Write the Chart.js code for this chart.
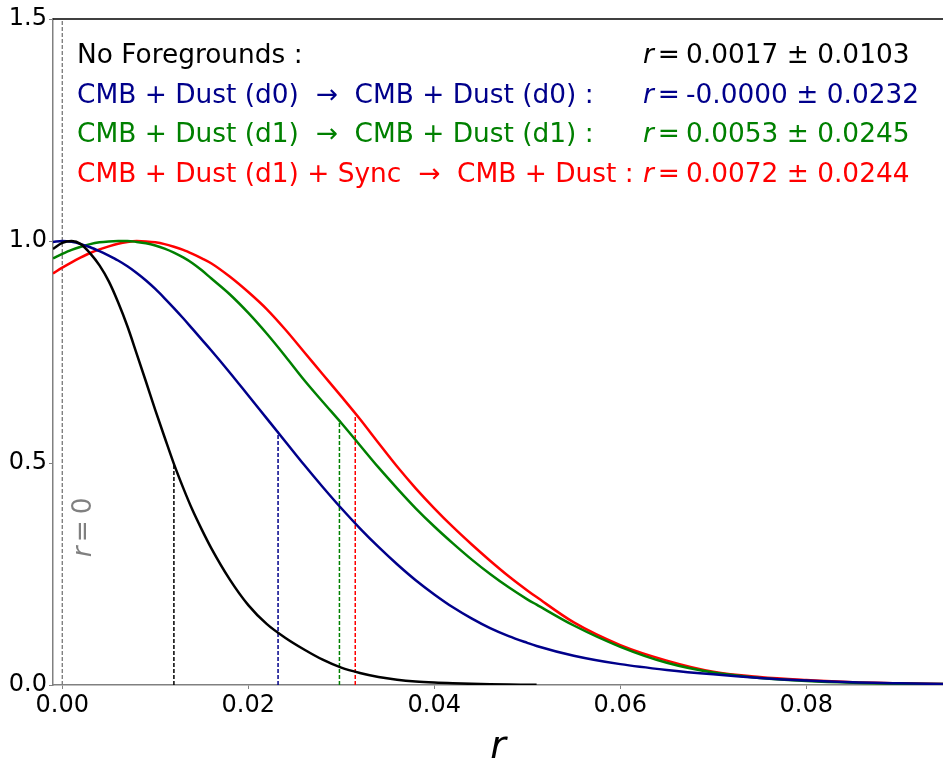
<!DOCTYPE html>
<html>
<head>
<meta charset="utf-8">
<script src="https://cdn.jsdelivr.net/npm/chart.js@4.4.0/dist/chart.umd.min.js"></script>
<style>
  html, body { margin: 0; padding: 0; background: #fff; }
  #wrap { width: 943px; height: 758px; }
</style>
</head>
<body>
<div id="wrap"><canvas id="likeChart" width="943" height="758"></canvas></div>
<script>
// r grid shared by all curves
const rGrid = [-0.001, 0, 0.001, 0.002, 0.003, 0.004, 0.005, 0.006, 0.007, 0.008, 0.009,
  0.010, 0.011, 0.012, 0.013, 0.014, 0.015, 0.016, 0.018, 0.020, 0.022, 0.024, 0.026,
  0.028, 0.030, 0.032, 0.034, 0.036, 0.038, 0.040, 0.042, 0.044, 0.046, 0.048, 0.050,
  0.051, 0.055, 0.060, 0.065, 0.070, 0.075, 0.080, 0.085, 0.090, 0.095];

// normalised likelihoods
const noFg = [0.982, 0.996, 1.0, 0.993, 0.972, 0.945, 0.909, 0.862, 0.808, 0.746, 0.683,
  0.619, 0.558, 0.498, 0.444, 0.394, 0.350, 0.309, 0.238, 0.180, 0.137, 0.106, 0.080,
  0.057, 0.039, 0.027, 0.018, 0.012, 0.008, 0.0055, 0.0038, 0.0026, 0.0017, 0.0011, 0.0007,
  0.0005, null, null, null, null, null, null, null, null, null];
const dustD0 = [0.998, 1.0, 0.998, 0.993, 0.986, 0.977, 0.967, 0.956, 0.943, 0.928, 0.911,
  0.892, 0.871, 0.849, 0.826, 0.802, 0.778, 0.754, 0.704, 0.652, 0.600, 0.548, 0.496,
  0.446, 0.398, 0.353, 0.311, 0.272, 0.236, 0.204, 0.175, 0.150, 0.128, 0.110, 0.095,
  0.088, 0.066, 0.047, 0.034, 0.024, 0.016, 0.010, 0.006, 0.004, 0.002];
const dustD1 = [0.961, 0.971, 0.980, 0.987, 0.993, 0.997, 0.999, 1.0, 1.0, 0.998, 0.995,
  0.990, 0.983, 0.974, 0.963, 0.950, 0.934, 0.916, 0.880, 0.838, 0.791, 0.740, 0.687,
  0.638, 0.590, 0.540, 0.490, 0.443, 0.398, 0.357, 0.319, 0.283, 0.250, 0.220, 0.193,
  0.181, 0.134, 0.086, 0.050, 0.028, 0.016, 0.009, 0.005, 0.003, 0.002];
const dustSync = [0.927, 0.940, 0.952, 0.963, 0.973, 0.981, 0.988, 0.994, 0.998, 1.0, 0.999,
  0.997, 0.993, 0.987, 0.980, 0.971, 0.961, 0.950, 0.920, 0.885, 0.846, 0.800, 0.750,
  0.700, 0.650, 0.599, 0.545, 0.492, 0.443, 0.398, 0.356, 0.317, 0.280, 0.245, 0.213,
  0.198, 0.141, 0.090, 0.055, 0.030, 0.018, 0.011, 0.006, 0.004, 0.002];

// upper limits (dashed) and the annotation texts
const limitR = [0.0120, 0.0232, 0.0298, 0.0315];
const limitL = [0.497, 0.571, 0.597, 0.608];
const caseNames = [
  'No Foregrounds :',
  'CMB + Dust (d0)  \u2192  CMB + Dust (d0) :',
  'CMB + Dust (d1)  \u2192  CMB + Dust (d1) :',
  'CMB + Dust (d1) + Sync  \u2192  CMB + Dust :'
];
const rBest = ['0.0017', '-0.0000', '0.0053', '0.0072'];
const rSigma = ['0.0103', '0.0232', '0.0245', '0.0244'];
const xTicks = [0, 0.02, 0.04, 0.06, 0.08];
const yTicks = [0, 0.5, 1.0, 1.5];

const colors = ['#000000', '#00008b', '#008000', '#ff0000'];
const FONT = 'DejaVu Sans';

const curves = [noFg, dustD0, dustD1, dustSync];
const datasets = [];

datasets.push({
  data: [{ x: 0, y: 0 }, { x: 0, y: 1.5 }],
  borderColor: '#808080', borderWidth: 1.4, borderDash: [4, 2],
  showLine: true, pointRadius: 0, order: 5
});

curves.forEach((vals, i) => {
  datasets.push({
    data: rGrid.map((r, j) => ({ x: r, y: vals[j] })).filter(p => p.y !== null),
    borderColor: colors[i], borderWidth: 2.5,
    showLine: true, pointRadius: 0, cubicInterpolationMode: 'monotone', order: 1
  });
  datasets.push({
    data: [{ x: limitR[i], y: 0 }, { x: limitR[i], y: limitL[i] }],
    borderColor: colors[i], borderWidth: 1.5, borderDash: [4, 2],
    showLine: true, pointRadius: 0, order: 2
  });
});

const annotations = {
  id: 'annotations',
  afterDraw(chart) {
    const { ctx, chartArea, scales } = chart;
    ctx.save();
    // top spine
    ctx.strokeStyle = '#000';
    ctx.lineWidth = 1.5;
    ctx.beginPath();
    ctx.moveTo(chartArea.left, chartArea.top);
    ctx.lineTo(chartArea.right, chartArea.top);
    ctx.stroke();

    ctx.textBaseline = 'alphabetic';
    ctx.textAlign = 'left';
    caseNames.forEach((name, i) => {
      const y = chartArea.top + 44.3 + i * 39.5;
      ctx.fillStyle = colors[i];
      ctx.font = '26.4px ' + FONT;
      ctx.fillText(name, chartArea.left + 24, y);
      let x = chartArea.left + 590;
      ctx.font = 'italic 26.4px ' + FONT;
      ctx.fillText('r', x, y);
      x += ctx.measureText('r').width + 4;
      ctx.font = '26.4px ' + FONT;
      ctx.fillText('=', x, y);
      x += ctx.measureText('=').width + 6;
      ctx.fillText(rBest[i] + ' \u00b1 ' + rSigma[i], x, y);
    });

    // r = 0 label along the dashed line
    ctx.translate(scales.x.getPixelForValue(0) + 29, scales.y.getPixelForValue(0.288));
    ctx.rotate(-Math.PI / 2);
    ctx.fillStyle = '#808080';
    ctx.font = 'italic 26.4px ' + FONT;
    ctx.fillText('r', 0, 0);
    let x = ctx.measureText('r').width + 4;
    ctx.font = '26.4px ' + FONT;
    ctx.fillText('=', x, 0);
    x += ctx.measureText('=').width + 6;
    ctx.fillText('0', x, 0);
    ctx.restore();
  }
};

new Chart(document.getElementById('likeChart'), {
  type: 'scatter',
  data: { datasets },
  plugins: [annotations],
  options: {
    responsive: false,
    animation: false,
    devicePixelRatio: 1,
    layout: { padding: { top: 19, right: 0, left: 0, bottom: 0 } },
    plugins: { legend: { display: false }, tooltip: { enabled: false } },
    scales: {
      x: {
        type: 'linear', min: -0.001, max: 0.0947,
        afterBuildTicks: s => { s.ticks = xTicks.map(v => ({ value: v })); },
        afterFit: s => { s.height = 73; },
        ticks: {
          callback: v => v.toFixed(2), color: '#000', padding: 2,
          font: { family: FONT, size: 24 }, maxRotation: 0, autoSkip: false
        },
        grid: { drawOnChartArea: false, drawTicks: true, tickLength: 4, tickColor: '#808080' },
        border: { color: '#808080', width: 1.5 },
        title: {
          display: true, text: 'r', color: '#000', padding: 0,
          font: { family: FONT, size: 38, style: 'italic', lineHeight: 0.54 }
        }
      },
      y: {
        min: 0, max: 1.5,
        afterBuildTicks: s => { s.ticks = yTicks.map(v => ({ value: v })); },
        afterFit: s => { s.width = 53; },
        ticks: {
          callback: v => v.toFixed(1), color: '#000', padding: 2,
          font: { family: FONT, size: 24 }
        },
        grid: { drawOnChartArea: false, drawTicks: true, tickLength: 4, tickColor: '#808080' },
        border: { color: '#808080', width: 1.5 }
      }
    }
  }
});
</script>
</body>
</html>
